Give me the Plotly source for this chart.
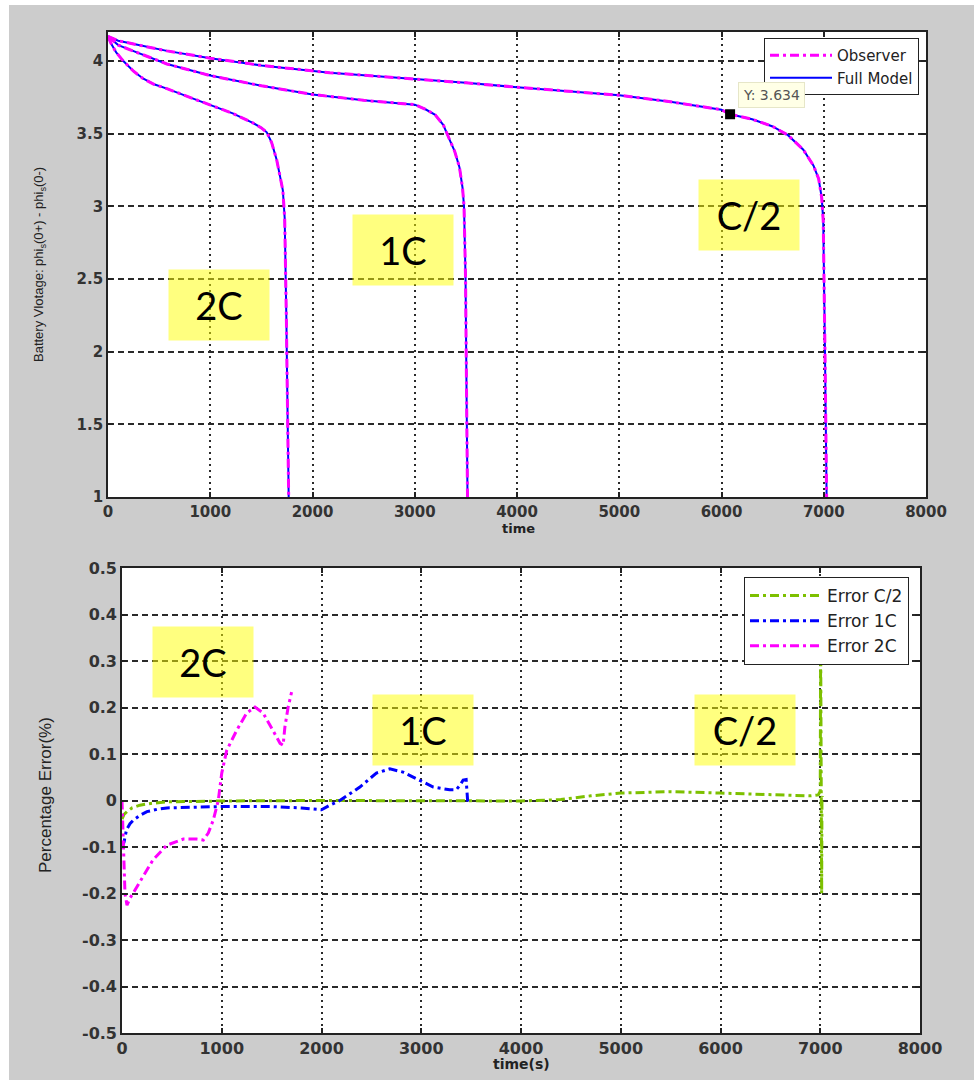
import plotly.graph_objects as go

# ---------------- discharge voltage curves (time in s, voltage in V) ----------------
t_c2 = [0, 100, 300, 576, 1000, 1500, 2168, 3000, 3500, 4000, 4500, 5000, 5500, 6000,
        6084, 6300, 6500, 6650, 6800, 6900, 6950, 6980, 6995, 7005, 7012, 7020, 7028]
v_c2 = [4.17, 4.14, 4.11, 4.07, 4.02, 3.97, 3.92, 3.877, 3.85, 3.82, 3.79, 3.765, 3.72, 3.665,
        3.634, 3.60, 3.55, 3.49, 3.39, 3.28, 3.19, 3.06, 2.9, 2.5, 2.0, 1.5, 1.0]

t_1c = [0, 100, 244, 576, 1000, 1500, 2000, 2500, 3000, 3100, 3200, 3280, 3340, 3390,
        3437, 3467, 3482, 3490, 3497, 3503, 3510, 3516]
v_1c = [4.17, 4.11, 4.07, 3.98, 3.90, 3.83, 3.77, 3.73, 3.70, 3.67, 3.63, 3.56, 3.46, 3.38,
        3.27, 3.13, 3.0, 2.8, 2.5, 2.0, 1.5, 1.0]

t_2c = [0, 30, 80, 150, 250, 342, 450, 576, 800, 1000, 1220, 1416, 1500, 1553, 1600, 1650,
        1690, 1710, 1728, 1738, 1745, 1752, 1758, 1767]
v_2c = [4.17, 4.12, 4.06, 4.00, 3.93, 3.88, 3.84, 3.81, 3.75, 3.70, 3.64, 3.575, 3.54, 3.51,
        3.44, 3.32, 3.19, 3.11, 2.92, 2.6, 2.2, 1.8, 1.4, 1.0]

# data cursor readout
tip_t = [6084]
tip_v = [3.634]

# ---------------- percentage error between observer and full model ----------------
te_c2 = [0, 20, 50, 100, 180, 300, 450, 1000, 2000, 3000, 4000, 4400, 4700, 5000, 5500,
         6000, 6500, 6900, 6980, 7000, 7004, 7008, 7011, 7014, 7017, 7020]
e_c2 = [-0.04, -0.03, -0.024, -0.016, -0.01, -0.006, -0.003, -0.001, 0.0, -0.001, -0.001,
        0.002, 0.01, 0.016, 0.019, 0.016, 0.012, 0.01, 0.012, 0.02, 0.35, -0.1, 0.15, -0.2,
        0.0, 0.01]

te_1c = [0, 20, 45, 80, 115, 180, 250, 350, 450, 700, 1000, 1500, 1800, 2000, 2084, 2184,
         2385, 2550, 2685, 2818, 2985, 3120, 3285, 3350, 3390, 3420, 3450, 3460, 3468]
e_1c = [-0.1, -0.09, -0.063, -0.05, -0.042, -0.032, -0.024, -0.019, -0.016, -0.014, -0.013,
        -0.013, -0.016, -0.02, -0.01, 0.0, 0.029, 0.059, 0.068, 0.061, 0.044, 0.029, 0.023,
        0.023, 0.033, 0.044, 0.045, 0.02, -0.01]

te_2c = [0, 15, 30, 50, 80, 110, 210, 310, 450, 615, 750, 815, 865, 915, 965, 1000, 1050,
         1150, 1250, 1333, 1415, 1515, 1585, 1615, 1633, 1665, 1700]
e_2c = [0.0, -0.1, -0.2, -0.225, -0.21, -0.2, -0.165, -0.128, -0.096, -0.083, -0.083, -0.085,
        -0.07, -0.042, 0.0, 0.059, 0.108, 0.151, 0.188, 0.201, 0.188, 0.151, 0.123, 0.119,
        0.158, 0.2, 0.233]

# ---------------- ticks ----------------
x_ticks = [0, 1000, 2000, 3000, 4000, 5000, 6000, 7000, 8000]
v_ticks = [1, 1.5, 2, 2.5, 3, 3.5, 4]
v_ticktext = ["1", "1.5", "2", "2.5", "3", "3.5", "4"]
e_ticks = [-0.5, -0.4, -0.3, -0.2, -0.1, 0, 0.1, 0.2, 0.3, 0.4, 0.5]
e_ticktext = ["-0.5", "-0.4", "-0.3", "-0.2", "-0.1", "0", "0.1", "0.2", "0.3", "0.4", "0.5"]

W, H = 974, 1084
MAGENTA = "#ff00ff"
BLUE = "#0000ff"
GREEN = "#7dc000"
DASHDOT = "9px,4px,3px,4px"


def fx(px):
    return px / W


def fy(py):
    return 1 - py / H


fig = go.Figure()

# top panel: full model (solid blue) under observer (magenta dash-dot)
for i, (t, v) in enumerate([(t_c2, v_c2), (t_1c, v_1c), (t_2c, v_2c)]):
    fig.add_trace(go.Scatter(
        x=t, y=v, mode="lines", name="Full Model", legendgroup="full",
        showlegend=(i == 0), legendrank=2,
        line=dict(color=BLUE, width=2), xaxis="x", yaxis="y", legend="legend"))
for i, (t, v) in enumerate([(t_c2, v_c2), (t_1c, v_1c), (t_2c, v_2c)]):
    fig.add_trace(go.Scatter(
        x=t, y=v, mode="lines", name="Observer", legendgroup="obs",
        showlegend=(i == 0), legendrank=1,
        line=dict(color=MAGENTA, width=3, dash=DASHDOT), xaxis="x", yaxis="y",
        legend="legend"))

fig.add_trace(go.Scatter(
    x=tip_t, y=tip_v, mode="markers", showlegend=False,
    marker=dict(symbol="square", size=10, color="black"), xaxis="x", yaxis="y"))

# bottom panel: percentage errors
for name, t, e, c in [("Error C/2", te_c2, e_c2, GREEN),
                      ("Error 1C", te_1c, e_1c, BLUE),
                      ("Error 2C", te_2c, e_2c, MAGENTA)]:
    fig.add_trace(go.Scatter(
        x=t, y=e, mode="lines", name=name,
        line=dict(color=c, width=3, dash=DASHDOT),
        xaxis="x2", yaxis="y2", legend="legend2"))

axis_common = dict(
    showline=True, linecolor="#222", linewidth=1.6, mirror="allticks",
    ticks="inside", ticklen=5, tickcolor="#222", tickwidth=1.6,
    showgrid=True, gridcolor="#2a2a2a", gridwidth=1.5, zeroline=False,
    automargin=False,
)


def tick_font(size):
    return dict(family="DejaVu Sans", size=size, color="#333", weight="bold")


fig.update_layout(
    width=W, height=H, autosize=False,
    margin=dict(l=0, r=0, t=0, b=0, pad=0),
    paper_bgcolor="#cccccc", plot_bgcolor="white",
    xaxis=dict(axis_common, domain=[fx(108), fx(926)], range=[0, 8000],
               tickvals=x_ticks, griddash="2px,4px", tickfont=tick_font(15),
               anchor="y"),
    yaxis=dict(axis_common, domain=[fy(497), fy(32)], range=[1, 4.2],
               tickvals=v_ticks, ticktext=v_ticktext, griddash="6px,4px",
               tickfont=tick_font(15), anchor="x"),
    xaxis2=dict(axis_common, domain=[fx(122), fx(920)], range=[0, 8000],
                tickvals=x_ticks, griddash="2px,4px", tickfont=tick_font(16),
                anchor="y2"),
    yaxis2=dict(axis_common, domain=[fy(1033), fy(568)], range=[-0.5, 0.5],
                tickvals=e_ticks, ticktext=e_ticktext, griddash="6px,4px",
                tickfont=tick_font(16), anchor="x2"),
    legend=dict(x=fx(919), y=fy(38), xanchor="right", yanchor="top",
                bgcolor="white", bordercolor="#222", borderwidth=1,
                font=dict(family="DejaVu Sans", size=15, color="#222"),
                itemwidth=62, tracegroupgap=0),
    legend2=dict(x=fx(909), y=fy(577), xanchor="right", yanchor="top",
                 bgcolor="white", bordercolor="#222", borderwidth=1,
                 font=dict(family="DejaVu Sans", size=17, color="#222"),
                 itemwidth=72, tracegroupgap=0),
    showlegend=True,
)

# thin white frame round the grey figure area
fig.add_shape(type="rect", xref="paper", yref="paper", x0=0, x1=fx(9), y0=0, y1=1,
              fillcolor="white", line_width=0, layer="below")
fig.add_shape(type="rect", xref="paper", yref="paper", x0=0, x1=1, y0=fy(5), y1=1,
              fillcolor="white", line_width=0, layer="below")
fig.add_shape(type="rect", xref="paper", yref="paper", x0=0, x1=1, y0=0, y1=fy(1080),
              fillcolor="white", line_width=0, layer="below")

# rate labels on yellow boxes
label_font = dict(family="Lato", size=38, color="black")
rate_labels = [
    ("x", "y", 1089, 2.318, "2C"),
    ("x", "y", 2881, 2.70, "1C"),
    ("x", "y", 6270, 2.94, "C/2"),
    ("x2", "y2", 812, 0.297, "2C"),
    ("x2", "y2", 3016, 0.152, "1C"),
    ("x2", "y2", 6242, 0.152, "C/2"),
]
for xr, yr, x, y, txt in rate_labels:
    fig.add_annotation(xref=xr, yref=yr, x=x, y=y, text=txt, showarrow=False,
                       width=100, height=70, borderpad=0,
                       bgcolor="rgba(255,255,0,0.5)", font=label_font,
                       xanchor="center", yanchor="middle")

# data cursor readout box
fig.add_annotation(xref="x", yref="y", x=tip_t[0], y=tip_v[0], text="Y: 3.634",
                   showarrow=False, xanchor="left", yanchor="bottom",
                   xshift=8, yshift=6, bgcolor="#ffffe6", bordercolor="#e6e6c8",
                   borderwidth=1, borderpad=4,
                   font=dict(family="DejaVu Sans", size=14, color="#555"))

# axis titles
fig.add_annotation(xref="paper", yref="paper", x=fx(40), y=fy(265),
                   text="Battery Vlotage: phi<sub>s</sub>(0+) - phi<sub>s</sub>(0-)",
                   textangle=-90, showarrow=False, xanchor="center", yanchor="middle",
                   font=dict(family="Liberation Sans", size=13, color="#222"))
fig.add_annotation(xref="paper", yref="paper", x=fx(518), y=fy(528), text="time",
                   showarrow=False, xanchor="center", yanchor="middle",
                   font=dict(family="DejaVu Sans", size=13, color="#222", weight="bold"))
fig.add_annotation(xref="paper", yref="paper", x=fx(45), y=fy(795),
                   text="Percentage Error(%)", textangle=-90, showarrow=False,
                   xanchor="center", yanchor="middle",
                   font=dict(family="Liberation Sans", size=17, color="#222"))
fig.add_annotation(xref="paper", yref="paper", x=fx(521), y=fy(1064), text="time(s)",
                   showarrow=False, xanchor="center", yanchor="middle",
                   font=dict(family="DejaVu Sans", size=14, color="#222", weight="bold"))

fig.write_html("out.html")
